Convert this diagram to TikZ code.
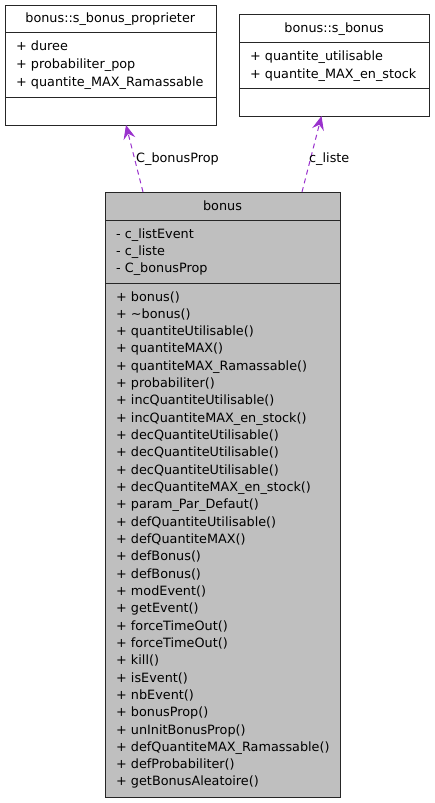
\documentclass[tikz,border=0pt]{standalone}
\usepackage{fontspec}
\setmainfont{DejaVu Sans}
\usetikzlibrary{arrows.meta}
\definecolor{edgepurple}{HTML}{9A32CD}
\definecolor{boxfill}{HTML}{BFBFBF}
\begin{document}
\begin{tikzpicture}[x=1bp,y=-1bp,
  umlbox/.style={draw=black!85, line width=1bp, rectangle, inner sep=0pt, anchor=north west},
  txt/.style={inner sep=0pt, anchor=base west, font=\fontsize{12.8bp}{15bp}\selectfont},
  ttl/.style={inner sep=0pt, anchor=base, font=\fontsize{12.8bp}{15bp}\selectfont},
  dep/.style={draw=edgepurple, line width=1bp, dash pattern=on 5bp off 4bp,
    -{Stealth[length=14bp, width=12bp, inset=5bp, fill=edgepurple]}},
  lbl/.style={inner sep=0pt, anchor=base west, font=\fontsize{12.8bp}{15bp}\selectfont}
]
\useasboundingbox (0,0) rectangle (435,803);

% box 1
\node[umlbox, minimum width=210.5bp, minimum height=120bp] (p) at (5,5) {};
\draw[black!85, line width=1bp] (5,33) -- (215.5,33) (5,97) -- (215.5,97);
\node[ttl] (pt) at (110.25,23) {bonus::s\_bonus\_proprieter};
\node[txt] (p1) at (16,51) {+ duree};
\node[txt] (p2) at (16,68.5) {+ probabiliter\_pop};
\node[txt] (p3) at (16,86) {+ quantite\_MAX\_Ramassable};

% box 2
\node[umlbox, minimum width=189.7bp, minimum height=102bp] (s) at (239.3,14) {};
\draw[black!85, line width=1bp] (239.3,43) -- (429,43) (239.3,88) -- (429,88);
\node[ttl] (st) at (334.15,32.5) {bonus::s\_bonus};
\node[txt] (s1) at (250,61) {+ quantite\_utilisable};
\node[txt] (s2) at (250,78.3) {+ quantite\_MAX\_en\_stock};

% bonus
\node[umlbox, fill=boxfill, minimum width=235bp, minimum height=605bp] (b) at (105,192) {};
\draw[black!85, line width=1bp] (105,220) -- (340,220) (105,283) -- (340,283);
\node[ttl] (bt) at (222.5,210) {bonus};
\foreach \t [count=\i] in {- c\_listEvent, - c\_liste, - C\_bonusProp}
  \node[txt] (a\i) at (116,{238+17.3*(\i-1)}) {\t};
\foreach \t [count=\i] in {+ bonus(), + \textasciitilde bonus(), + quantiteUtilisable(), + quantiteMAX(),
  + quantiteMAX\_Ramassable(), + probabiliter(), + incQuantiteUtilisable(), + incQuantiteMAX\_en\_stock(),
  + decQuantiteUtilisable(), + decQuantiteUtilisable(), + decQuantiteUtilisable(), + decQuantiteMAX\_en\_stock(),
  + param\_Par\_Defaut(), + defQuantiteUtilisable(), + defQuantiteMAX(), + defBonus(), + defBonus(),
  + modEvent(), + getEvent(), + forceTimeOut(), + forceTimeOut(), + kill(), + isEvent(), + nbEvent(),
  + bonusProp(), + unInitBonusProp(), + defQuantiteMAX\_Ramassable(), + defProbabiliter(), + getBonusAleatoire()}
  \node[txt] (m\i) at (116,{301+17.32*(\i-1)}) {\t};

% connectors
\coordinate (e1s) at (143,192);
\coordinate (e1t) at (126,125);
\coordinate (e2s) at (302,192);
\coordinate (e2t) at (321.5,116);
\draw[dep] (e1s) -- (e1t);
\draw[dep] (e2s) -- (e2t);
\node[lbl] (l1) at (136,162) {C\_bonusProp};
\node[lbl] (l2) at (309,162) {c\_liste};
\end{tikzpicture}
\end{document}
